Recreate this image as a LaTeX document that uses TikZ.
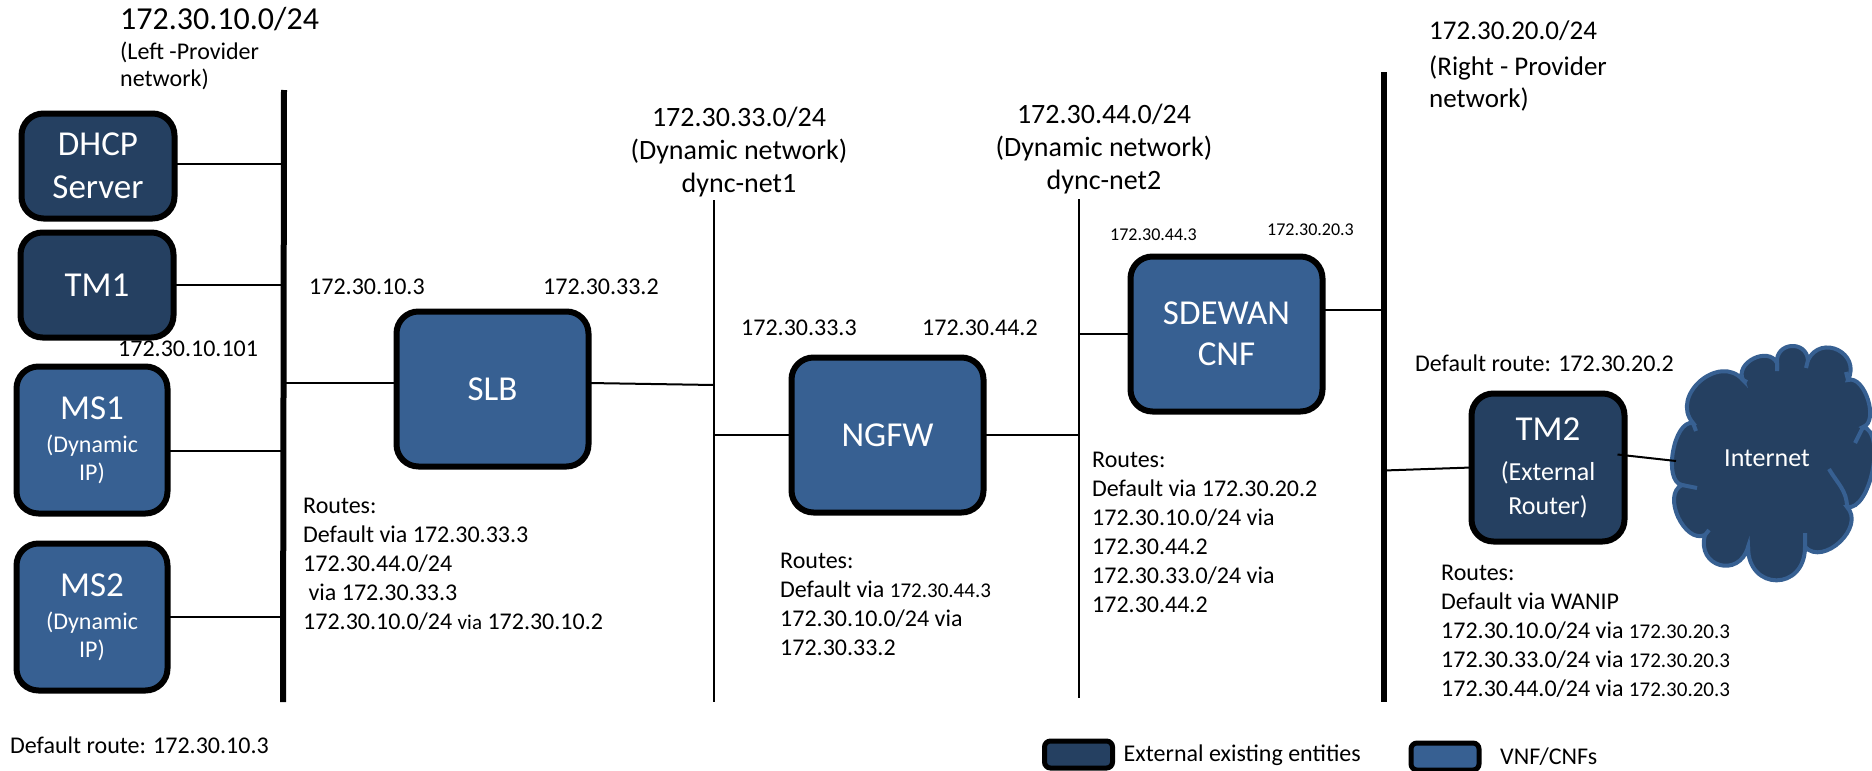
\documentclass[tikz,border=0pt]{standalone}
\usepackage{fontspec}
\setmainfont{Carlito}
\usetikzlibrary{positioning, calc}
\definecolor{extblue}{HTML}{254061}
\definecolor{vnfblue}{HTML}{376092}

\begin{document}
\begin{tikzpicture}[x=1pt, y=-1pt,
  box/.style={draw=black, line width=6pt, rounded corners=22pt, outer sep=0pt, inner sep=0pt,
              align=center, text=white, font=\fontsize{35}{43}\selectfont},
  extbox/.style={box, fill=extblue},
  vnfbox/.style={box, fill=vnfblue},
  legendbox/.style={draw=black, line width=5pt, rounded corners=6pt, outer sep=0pt, inner sep=0pt,
                    minimum width=68pt, minimum height=27pt},
  net/.style={inner sep=0pt, align=center, font=\fontsize{28}{33}\selectfont},
  sidenet/.style={inner sep=0pt, align=left, anchor=west, font=\fontsize{27}{32}\selectfont},
  ip/.style={inner sep=0pt, anchor=west, font=\fontsize{24}{29}\selectfont},
  smallip/.style={inner sep=0pt, anchor=west, font=\fontsize{18}{22}\selectfont},
  routes/.style={inner sep=0pt, align=left, anchor=west, font=\fontsize{24}{29}\selectfont},
  puff/.style={bend left=90, looseness=#1},
  bus/.style={line width=6pt},
  thin net/.style={line width=2pt},
  conn/.style={line width=2pt}]
  \useasboundingbox (0,0) rectangle (1872,771);

  \newcommand{\subfont}{\fontsize{24}{27}\selectfont}
  \newcommand{\viafont}{\fontsize{21}{29}\selectfont}

  \coordinate (lefttop) at (284,90);
  \coordinate (leftbot) at (283,702);
  \coordinate (net1top) at (714,200);
  \coordinate (net1bot) at (714,702);
  \coordinate (net2top) at (1079,199);
  \coordinate (net2bot) at (1079,698);
  \coordinate (righttop) at (1384,72);
  \coordinate (rightbot) at (1384,702);
  \coordinate (cloudwest) at (1676,461);

  \draw[bus] (lefttop) -- (leftbot);
  \draw[bus] (righttop) -- (rightbot);
  \draw[thin net] (net1top) -- (net1bot);
  \draw[thin net] (net2top) -- (net2bot);

  \node[extbox, minimum width=153pt, minimum height=105pt] (dhcp) at (98,166) {DHCP\\Server};
  \node[extbox, minimum width=153pt, minimum height=105pt, below=14pt of dhcp, xshift=-1pt] (tm1) {TM1};
  \node[vnfbox, minimum width=151pt, minimum height=147pt] (ms1) at (92,440)
    {MS1\\[-10pt]{\subfont (Dynamic}\\[-15pt]{\subfont IP)}};
  \node[vnfbox, minimum width=151pt, minimum height=147pt, below=30pt of ms1] (ms2)
    {MS2\\[-10pt]{\subfont (Dynamic}\\[-15pt]{\subfont IP)}};
  \node[vnfbox, minimum width=192pt, minimum height=155pt] (slb) at (492.5,389) {SLB};
  \node[vnfbox, minimum width=192pt, minimum height=155pt, right=203pt of slb, yshift=-46pt] (ngfw) {NGFW};
  \node[vnfbox, minimum width=192pt, minimum height=155pt, right=147pt of ngfw, yshift=101pt] (sdewan) {SDEWAN\\[-2pt]CNF};
  \node[extbox, minimum width=153pt, minimum height=148pt] (tm2) at (1548,467.5)
    {TM2\\[-3pt]{\fontsize{26}{33}\selectfont (External}\\[-9pt]{\fontsize{26}{33}\selectfont Router)}};

  \draw[conn] ([yshift=2pt]dhcp.east) -- ([yshift=2pt]dhcp.east -| lefttop);
  \draw[conn] (tm1.east) -- (tm1.east -| lefttop);
  \draw[conn] ([yshift=-11pt]ms1.east) -- ([yshift=-11pt]ms1.east -| lefttop);
  \draw[conn] (ms2.east) -- (ms2.east -| lefttop);
  \draw[conn] ([yshift=6pt]slb.west) -- ([yshift=6pt]slb.west -| lefttop);
  \draw[conn] ([yshift=6pt]slb.east) -- ([yshift=4pt]slb.east -| net1top);
  \draw[conn] (ngfw.west) -- (ngfw.west -| net1top);
  \draw[conn] (ngfw.east) -- (ngfw.east -| net2top);
  \draw[conn] (sdewan.west) -- (sdewan.west -| net2top);
  \draw[conn] ([yshift=24pt]sdewan.east) -- ([yshift=24pt]sdewan.east -| righttop);
  \draw[conn] (tm2.west) -- ([yshift=-3pt]tm2.west -| righttop);

  \draw[draw=vnfblue, fill=extblue, line width=4pt]
    (1693,423) to[puff=1.4] (1743,380)
    to[puff=1.3] (1777,363)
    to[puff=1.7] (1808,360)
    to[puff=1.7] (1848,380)
    to[puff=0.9] (1863,427)
    to[puff=0.75] (1847,507)
    to[puff=1.2] (1805,547)
    to[puff=2] (1748,547)
    to[puff=1.9] (1705,535)
    to[puff=1.05] (1682,485)
    to[puff=0.8] cycle;
  \draw[vnfblue, line width=4pt]
    (1743,380) -- (1747,382)
    (1777,363) -- (1777,371)
    (1808,360) -- (1806,368)
    (1848,380) -- (1846,372)
    (1863,427) -- (1855,443)
    (1805,547) -- (1805,533)
    (1748,547) -- (1748,556)
    (1705,535) -- (1709,530)
    (1682,485) -- (1697,488)
    (1693,423) -- (1696,431)
    (1829,469) to[out=-60, in=90, looseness=1] (1847,507);
  \node[inner sep=0pt, text=white, font=\fontsize{26}{31}\selectfont] (internet) at (1767,458) {Internet};
  \draw[conn] ([yshift=13pt]tm2.east) ++(-7pt,0pt) -- (cloudwest);

  \node[sidenet] (leftnet) at (120,19) {\fontsize{32}{38}\selectfont 172.30.10.0/24};
  \node[inner sep=0pt, align=left, anchor=west, font=\fontsize{24}{27}\selectfont] (leftname) at (120,66) {(Left -Provider\\network)};
  \node[sidenet] (rightnet) at (1429,31) {172.30.20.0/24};
  \node[sidenet] (rightname) at (1429,84) {(Right - Provider\\network)};
  \node[net] (dync1) at (739,152) {172.30.33.0/24\\(Dynamic network)\\dync-net1};
  \node[net] (dync2) at (1104,149) {172.30.44.0/24\\(Dynamic network)\\dync-net2};

  \node[ip] (slbleft) at (309,287) {172.30.10.3};
  \node[ip] (slbright) at (543,287) {172.30.33.2};
  \node[ip] (ms1ip) at (118,349) {172.30.10.101};
  \node[ip] (ngfwleft) at (741,328) {172.30.33.3};
  \node[ip] (ngfwright) at (922,328) {172.30.44.2};
  \node[smallip] (sdewanleft) at (1110,235) {172.30.44.3};
  \node[smallip] (sdewanright) at (1267,230) {172.30.20.3};
  \node[ip] (tm2route) at (1415,363) {Default route: 172.30.20.2};
  \node[ip] (msroute) at (10,745) {Default route: 172.30.10.3};

  \node[routes] (slbroutes) at (303,564)
    {Routes:\\Default via 172.30.33.3\\172.30.44.0/24\\\ via 172.30.33.3\\172.30.10.0/24 {\viafont via} 172.30.10.2};
  \node[routes] (ngfwroutes) at (780,604)
    {Routes:\\Default via {\viafont 172.30.44.3}\\172.30.10.0/24 via\\172.30.33.2};
  \node[routes] (sdewanroutes) at (1092,532)
    {Routes:\\Default via 172.30.20.2\\172.30.10.0/24 via\\172.30.44.2\\172.30.33.0/24 via\\172.30.44.2};
  \node[routes] (tm2routes) at (1441,631)
    {Routes:\\Default via WANIP\\172.30.10.0/24 via {\viafont 172.30.20.3}\\172.30.33.0/24 via {\viafont 172.30.20.3}\\172.30.44.0/24 via {\viafont 172.30.20.3}};

  \node[legendbox, fill=extblue] (legendext) at (1078.5,754.5) {};
  \node[ip, right=11pt of legendext, yshift=-1pt] (legendexttext) {External existing entities};
  \node[legendbox, fill=vnfblue] (legendvnf) at (1445,756.5) {};
  \node[ip, right=21pt of legendvnf] (legendvnftext) {VNF/CNFs};
\end{tikzpicture}
\end{document}
